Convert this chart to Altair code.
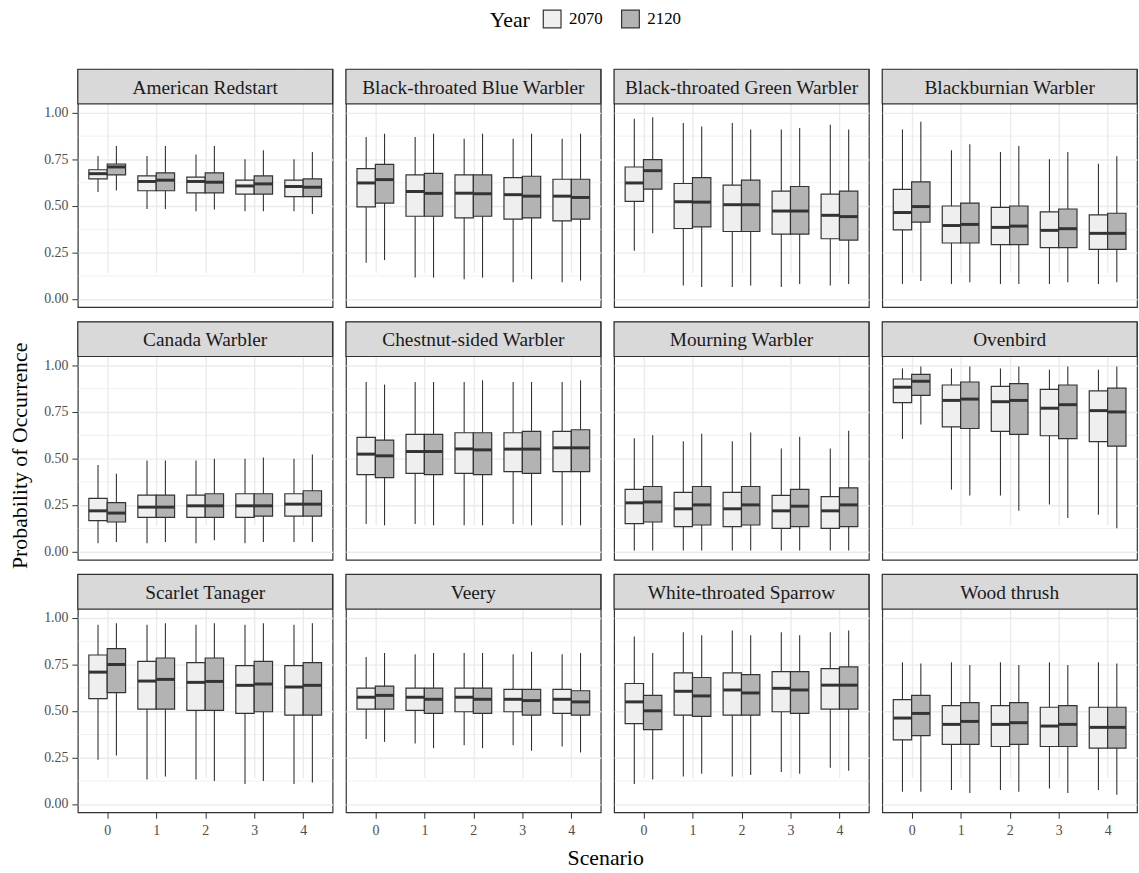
import altair as alt
import pandas as pd

SPECIES = [
    "American Redstart", "Black-throated Blue Warbler", "Black-throated Green Warbler", "Blackburnian Warbler",
    "Canada Warbler", "Chestnut-sided Warbler", "Mourning Warbler", "Ovenbird",
    "Scarlet Tanager", "Veery", "White-throated Sparrow", "Wood thrush",
]
SCENARIOS = [0, 1, 2, 3, 4]
YEARS = ["2070", "2120"]
Y_TICKS = [0.0, 0.125, 0.25, 0.375, 0.5, 0.625, 0.75, 0.875, 1.0]

# ---- year 2070: one list of 5 scenario values per species ----
HIGH_2070 = [
    [0.768, 0.768, 0.776, 0.751, 0.751], [0.870, 0.870, 0.861, 0.861, 0.861],
    [0.968, 0.945, 0.945, 0.911, 0.936], [0.911, 0.799, 0.790, 0.751, 0.726],
    [0.465, 0.489, 0.489, 0.498, 0.498], [0.911, 0.911, 0.911, 0.911, 0.911],
    [0.608, 0.592, 0.592, 0.553, 0.553], [0.984, 0.984, 0.984, 0.977, 0.977],
    [0.964, 0.964, 0.964, 0.964, 0.964], [0.790, 0.805, 0.812, 0.805, 0.805],
    [0.901, 0.924, 0.933, 0.924, 0.924], [0.762, 0.762, 0.762, 0.762, 0.762],
]
Q3_2070 = [
    [0.694, 0.661, 0.654, 0.638, 0.638], [0.700, 0.666, 0.666, 0.652, 0.643],
    [0.709, 0.620, 0.611, 0.579, 0.563], [0.588, 0.499, 0.492, 0.467, 0.451],
    [0.285, 0.303, 0.303, 0.310, 0.310], [0.613, 0.629, 0.638, 0.638, 0.645],
    [0.333, 0.317, 0.317, 0.301, 0.294], [0.927, 0.895, 0.887, 0.871, 0.863],
    [0.801, 0.767, 0.760, 0.744, 0.744], [0.623, 0.623, 0.623, 0.616, 0.616],
    [0.648, 0.705, 0.705, 0.712, 0.728], [0.561, 0.529, 0.529, 0.520, 0.520],
]
MED_2070 = [
    [0.673, 0.631, 0.631, 0.607, 0.604], [0.623, 0.577, 0.568, 0.560, 0.552],
    [0.623, 0.522, 0.506, 0.472, 0.449], [0.464, 0.394, 0.384, 0.368, 0.352],
    [0.218, 0.238, 0.245, 0.245, 0.254], [0.523, 0.537, 0.551, 0.550, 0.557],
    [0.261, 0.229, 0.229, 0.218, 0.218], [0.883, 0.812, 0.805, 0.770, 0.757],
    [0.709, 0.661, 0.654, 0.638, 0.629], [0.574, 0.574, 0.574, 0.563, 0.563],
    [0.549, 0.606, 0.613, 0.622, 0.639], [0.462, 0.428, 0.428, 0.419, 0.412],
]
Q1_2070 = [
    [0.645, 0.581, 0.570, 0.563, 0.549], [0.494, 0.444, 0.435, 0.428, 0.419],
    [0.524, 0.378, 0.362, 0.348, 0.323], [0.371, 0.300, 0.291, 0.275, 0.266],
    [0.165, 0.183, 0.183, 0.183, 0.190], [0.413, 0.420, 0.420, 0.429, 0.429],
    [0.149, 0.133, 0.133, 0.124, 0.124], [0.800, 0.670, 0.645, 0.622, 0.590],
    [0.567, 0.510, 0.503, 0.487, 0.478], [0.510, 0.503, 0.496, 0.496, 0.487],
    [0.432, 0.478, 0.478, 0.496, 0.510], [0.345, 0.320, 0.309, 0.309, 0.300],
]
LOW_2070 = [
    [0.574, 0.483, 0.471, 0.471, 0.471], [0.194, 0.114, 0.105, 0.089, 0.089],
    [0.258, 0.071, 0.064, 0.064, 0.071], [0.080, 0.080, 0.080, 0.080, 0.080],
    [0.044, 0.044, 0.044, 0.044, 0.051], [0.147, 0.147, 0.140, 0.147, 0.140],
    [0.005, 0.005, 0.005, 0.005, 0.005], [0.605, 0.332, 0.301, 0.252, 0.197],
    [0.238, 0.131, 0.131, 0.108, 0.108], [0.350, 0.325, 0.316, 0.316, 0.309],
    [0.108, 0.147, 0.147, 0.172, 0.195], [0.066, 0.075, 0.075, 0.083, 0.075],
]

# ---- year 2120 ----
HIGH_2120 = [
    [0.822, 0.822, 0.822, 0.799, 0.790], [0.888, 0.888, 0.888, 0.888, 0.888],
    [0.977, 0.927, 0.911, 0.918, 0.911], [0.952, 0.831, 0.822, 0.790, 0.767],
    [0.417, 0.489, 0.498, 0.505, 0.521], [0.897, 0.911, 0.920, 0.911, 0.920],
    [0.624, 0.633, 0.640, 0.617, 0.649], [0.995, 0.995, 0.995, 0.995, 0.995],
    [0.972, 0.972, 0.972, 0.972, 0.972], [0.812, 0.812, 0.812, 0.819, 0.812],
    [0.812, 0.908, 0.908, 0.908, 0.933], [0.755, 0.748, 0.748, 0.748, 0.755],
]
Q3_2120 = [
    [0.725, 0.677, 0.677, 0.661, 0.645], [0.723, 0.675, 0.666, 0.659, 0.643],
    [0.748, 0.652, 0.638, 0.604, 0.579], [0.629, 0.515, 0.499, 0.483, 0.460],
    [0.262, 0.303, 0.310, 0.310, 0.326], [0.598, 0.629, 0.638, 0.645, 0.654],
    [0.349, 0.349, 0.349, 0.333, 0.342], [0.952, 0.911, 0.902, 0.895, 0.878],
    [0.835, 0.785, 0.785, 0.767, 0.760], [0.634, 0.623, 0.623, 0.616, 0.609],
    [0.584, 0.680, 0.696, 0.712, 0.737], [0.584, 0.545, 0.545, 0.529, 0.520],
]
MED_2120 = [
    [0.709, 0.638, 0.627, 0.618, 0.600], [0.641, 0.567, 0.565, 0.552, 0.545],
    [0.689, 0.520, 0.506, 0.472, 0.442], [0.496, 0.400, 0.391, 0.377, 0.352],
    [0.206, 0.238, 0.245, 0.245, 0.254], [0.514, 0.537, 0.546, 0.550, 0.557],
    [0.266, 0.250, 0.250, 0.243, 0.250], [0.915, 0.819, 0.812, 0.789, 0.750],
    [0.750, 0.670, 0.659, 0.645, 0.638], [0.584, 0.563, 0.563, 0.556, 0.549],
    [0.501, 0.581, 0.597, 0.613, 0.639], [0.487, 0.444, 0.437, 0.428, 0.412],
]
Q1_2120 = [
    [0.666, 0.581, 0.570, 0.563, 0.549], [0.515, 0.444, 0.444, 0.435, 0.428],
    [0.590, 0.387, 0.362, 0.348, 0.316], [0.412, 0.300, 0.291, 0.275, 0.266],
    [0.158, 0.183, 0.183, 0.190, 0.190], [0.397, 0.413, 0.413, 0.420, 0.429],
    [0.158, 0.142, 0.142, 0.133, 0.133], [0.839, 0.661, 0.629, 0.606, 0.566],
    [0.599, 0.510, 0.503, 0.496, 0.478], [0.510, 0.487, 0.487, 0.478, 0.478],
    [0.400, 0.471, 0.478, 0.487, 0.510], [0.368, 0.320, 0.320, 0.309, 0.300],
]
LOW_2120 = [
    [0.583, 0.483, 0.480, 0.471, 0.456], [0.208, 0.114, 0.114, 0.105, 0.098],
    [0.353, 0.064, 0.071, 0.080, 0.080], [0.096, 0.089, 0.080, 0.089, 0.089],
    [0.051, 0.051, 0.060, 0.051, 0.051], [0.140, 0.140, 0.140, 0.140, 0.140],
    [0.005, 0.005, 0.005, 0.005, 0.005], [0.683, 0.301, 0.218, 0.179, 0.124],
    [0.261, 0.147, 0.124, 0.124, 0.115], [0.334, 0.300, 0.300, 0.286, 0.277],
    [0.131, 0.163, 0.156, 0.163, 0.179], [0.066, 0.059, 0.066, 0.059, 0.050],
]

STATS = {
    "2070": (LOW_2070, Q1_2070, MED_2070, Q3_2070, HIGH_2070),
    "2120": (LOW_2120, Q1_2120, MED_2120, Q3_2120, HIGH_2120),
}

rows = []
for i, sp in enumerate(SPECIES):
    for yr in YEARS:
        lo, q1, md, q3, hi = STATS[yr]
        for j, sc in enumerate(SCENARIOS):
            rows.append({"species": sp, "scenario": sc, "year": yr,
                         "low": lo[i][j], "q1": q1[i][j], "med": md[i][j],
                         "q3": q3[i][j], "high": hi[i][j]})
df = pd.DataFrame(rows)

FONT = "Liberation Serif"
PW, PH, SH = 257, 205, 35
H = PH + SH
MAJOR = "datum.value % 0.25 == 0"
GRID = "#ebebeb"
DARK = "#333333"

yscale = alt.Scale(domain=[-0.045, 1.048], range=[H, SH], nice=False, zero=False)
xscale = alt.Scale(domain=[-0.6, 4.6], nice=False, zero=False)
fill_scale = alt.Scale(domain=YEARS, range=["#efefef", "#b3b3b3"])

legend = alt.Legend(
    orient="none", legendX=489, legendY=-61, direction="horizontal",
    title="Year", titleOrient="left", titleFont=FONT, titleFontSize=22,
    titleFontWeight="normal", titleColor="black", titlePadding=12,
    labelFont=FONT, labelFontSize=17, labelColor="black", labelOffset=7,
    symbolType="square", symbolSize=320, symbolStrokeColor=DARK,
    symbolStrokeWidth=1.2, columnPadding=16,
)


def y_axis(first_col):
    kw = dict(values=Y_TICKS, grid=True, gridColor=GRID,
              gridWidth={"condition": {"test": MAJOR, "value": 1.4}, "value": 0.7},
              domain=False, labelOverlap=False)
    if first_col:
        kw.update(labels=True, ticks=True, tickSize=6, tickColor=DARK, tickWidth=1,
                  tickOpacity={"condition": {"test": MAJOR, "value": 1}, "value": 0},
                  labelExpr="datum.value % 0.25 == 0 ? format(datum.value, '.2f') : ''",
                  labelFont=FONT, labelFontSize=14, labelColor="#4d4d4d", labelPadding=4)
    else:
        kw.update(labels=False, ticks=False, minExtent=0, maxExtent=0)
    return alt.Axis(**kw)


def x_axis(bottom):
    kw = dict(values=SCENARIOS, grid=True, gridColor=GRID, gridWidth=1.4,
              domain=False, labelOverlap=False, labelFlush=False)
    if bottom:
        kw.update(labels=True, ticks=True, tickSize=6, tickColor=DARK, tickWidth=1,
                  format="d", labelFont=FONT, labelFontSize=14, labelColor="#4d4d4d",
                  labelPadding=5)
    else:
        kw.update(labels=False, ticks=False, minExtent=0, maxExtent=0)
    return alt.Axis(**kw)


def panel(i, sp):
    xa = x_axis(i // 4 == 2)
    ya = y_axis(i % 4 == 0)
    base = alt.Chart(df).transform_filter(alt.datum.species == sp).transform_calculate(
        xc="datum.scenario + (datum.year == '2070' ? -0.1875 : 0.1875)",
        xl="datum.scenario + (datum.year == '2070' ? -0.375 : 0)",
        xr="datum.scenario + (datum.year == '2070' ? 0 : 0.375)",
    )
    whisk = base.mark_rule(color=DARK, strokeWidth=1.1).encode(
        x=alt.X("xc:Q", scale=xscale, axis=xa, title=None),
        y=alt.Y("low:Q", scale=yscale, axis=ya, title=None),
        y2="high:Q",
    )
    box = base.mark_rect(stroke=DARK, strokeWidth=1.2).encode(
        x=alt.X("xl:Q", scale=xscale, axis=xa, title=None),
        x2="xr:Q",
        y=alt.Y("q1:Q", scale=yscale, axis=ya, title=None),
        y2="q3:Q",
        fill=alt.Fill("year:N", scale=fill_scale, legend=legend),
    )
    med = base.mark_rule(color=DARK, strokeWidth=3).encode(
        x=alt.X("xl:Q", scale=xscale, axis=xa, title=None),
        x2="xr:Q",
        y=alt.Y("med:Q", scale=yscale, axis=ya, title=None),
    )
    sd = alt.Chart(pd.DataFrame({"label": [sp]}))
    strip_rect = sd.mark_rect(fill="#d9d9d9", stroke=DARK, strokeWidth=1.2).encode(
        x=alt.value(0), x2=alt.value(PW), y=alt.value(0), y2=alt.value(SH))
    strip_text = sd.mark_text(font=FONT, fontSize=19.5, color="#1a1a1a",
                              baseline="middle", align="center").encode(
        text="label:N", x=alt.value(PW / 2), y=alt.value(SH / 2 + 1))
    return alt.layer(whisk, box, med, strip_rect, strip_text).properties(
        width=PW, height=H, view=alt.ViewBackground(stroke=DARK, strokeWidth=1.2))


grid = alt.concat(*[panel(i, sp) for i, sp in enumerate(SPECIES)], columns=4,
                  spacing={"row": 11.8, "column": 9.5}, align="each")

ytitle = alt.Chart(pd.DataFrame({"t": ["Probability of Occurrence"]})).mark_text(
    angle=270, font=FONT, fontSize=22, color="black", align="center", baseline="middle"
).encode(text="t:N", x=alt.value(15), y=alt.value(390)).properties(width=24, height=520)

xtitle = alt.Chart(pd.DataFrame({"t": ["Scenario"]})).mark_text(
    font=FONT, fontSize=22, color="black", align="center", baseline="middle"
).encode(text="t:N", x=alt.value(606), y=alt.value(15)).properties(width=1100, height=30)

chart = alt.vconcat(
    alt.hconcat(ytitle, grid, spacing=10.5),
    xtitle,
    spacing=4,
).properties(
    padding={"left": 4, "top": 5, "right": 0, "bottom": 0}
).configure_view(stroke="transparent")

chart.save("out.html", embed_options={"renderer": "svg", "actions": False})
